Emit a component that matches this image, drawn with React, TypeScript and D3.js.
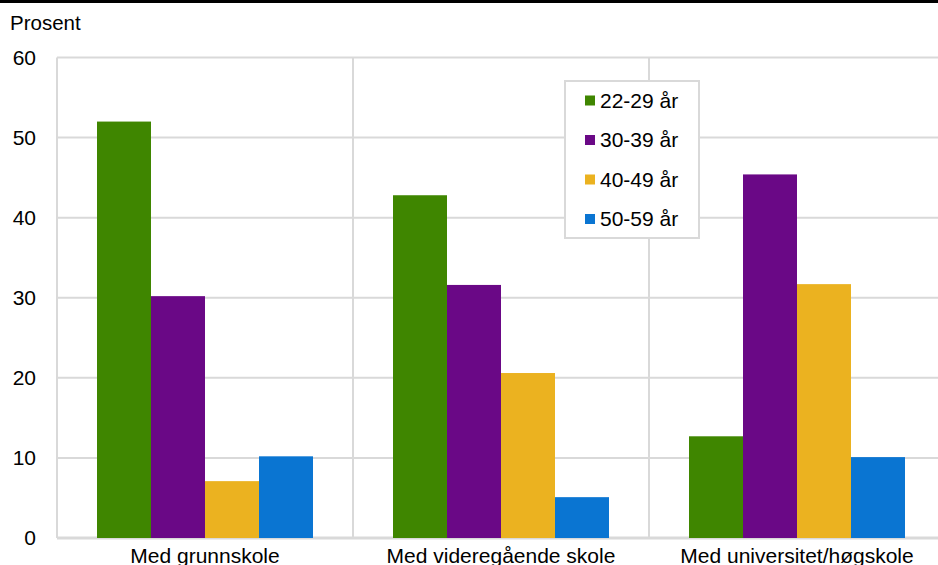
import React from "react";
import * as d3 from "d3";

const categories = ["Med grunnskole", "Med videregående skole", "Med universitet/høgskole"];
const seriesNames = ["22-29 år", "30-39 år", "40-49 år", "50-59 år"];
const seriesColors = ["#3f8600", "#6a0886", "#ebb220", "#0a75d2"];
const values22_29 = [52.0, 42.8, 12.7];
const values30_39 = [30.2, 31.6, 45.4];
const values40_49 = [7.1, 20.6, 31.7];
const values50_59 = [10.2, 5.1, 10.1];
const yTicks = [0, 10, 20, 30, 40, 50, 60];
const yLabel = "Prosent";

const seriesValues = [values22_29, values30_39, values40_49, values50_59];

export default function App() {
  const W = 938, H = 565;
  const left = 57, top = 57.5, bottom = 538;
  const band = 296;
  const x0 = d3.scaleBand<string>().domain(categories).range([left, left + band * categories.length]).paddingInner(0).paddingOuter(0);
  const inner = d3.scaleBand<string>().domain(seriesNames).range([40, band - 40]).padding(0);
  const y = d3.scaleLinear().domain([0, 60]).range([bottom, top]);
  const font = "'Liberation Sans', Arial, sans-serif";
  const grid = "#d9d9d9";
  const fs = 21;

  return (
    <svg width={W} height={H} style={{ position: "absolute", left: 0, top: 0, background: "#fff" }} fontFamily={font}>
      <rect x={0} y={0} width={W} height={3} fill="#000" />
      <text x={10} y={30} fontSize={20.5} fill="#000">{yLabel}</text>
      {yTicks.map((t) => (
        <g key={t}>
          <line x1={left} x2={W} y1={y(t)} y2={y(t)} stroke={grid} strokeWidth={t === 0 ? 3 : 2} />
          <text x={36} y={y(t)} dy="0.35em" textAnchor="end" fontSize={fs} fill="#000">{t}</text>
        </g>
      ))}
      {categories.map((c) => (
        <line key={c} x1={x0(c)!} x2={x0(c)!} y1={top} y2={bottom} stroke={grid} strokeWidth={2} />
      ))}
      {categories.map((c, ci) => (
        <g key={c} transform={`translate(${x0(c)},0)`}>
          {seriesNames.map((s, si) => {
            const v = seriesValues[si][ci];
            return (
              <rect key={s} x={inner(s)!} y={y(v)} width={inner.bandwidth()} height={y(0) - y(v)} fill={seriesColors[si]} />
            );
          })}
          <text x={band / 2} y={563} textAnchor="middle" fontSize={fs} fill="#000">{c}</text>
        </g>
      ))}
      <rect x={565} y={81} width={134} height={157} fill="#fff" stroke={grid} strokeWidth={2} />
      {seriesNames.map((s, i) => (
        <g key={s} transform={`translate(585,${100.5 + i * 39.5})`}>
          <rect x={0} y={-5} width={10} height={10} fill={seriesColors[i]} />
          <text x={15} y={0} dy="0.35em" fontSize={fs} fill="#000">{s}</text>
        </g>
      ))}
    </svg>
  );
}
